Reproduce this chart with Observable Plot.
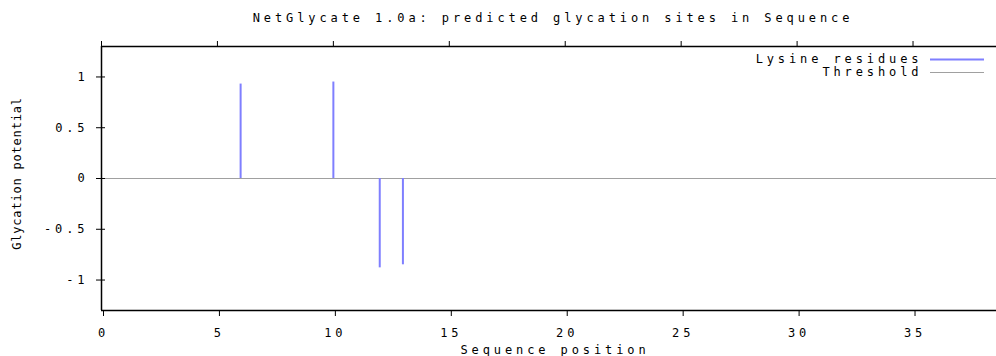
<!DOCTYPE html>
<html>
<head>
<meta charset="utf-8">
<script src="https://cdn.jsdelivr.net/npm/d3@7"></script>
<script src="https://cdn.jsdelivr.net/npm/@observablehq/plot@0.6"></script>
<style>
  html, body { margin: 0; padding: 0; background: #fff; }
  svg text { font-family: "DejaVu Sans Mono", monospace; }
</style>
</head>
<body>
<div id="chart"></div>
<script>
const titleText = "NetGlycate 1.0a: predicted glycation sites in Sequence";
const xLabel = "Sequence position";
const yLabel = "Glycation potential";
const positions = [6, 10, 12, 13];
const potentials = [0.93, 0.95, -0.88, -0.85];
const threshold = [0];
const xTicks = [0, 5, 10, 15, 20, 25, 30, 35];
const yTicks = [-1, -0.5, 0, 0.5, 1];
const xDomain = [0, 38.6];
const yDomain = [-1.3, 1.3];
const legendLabels = ["Lysine residues", "Threshold"];
const legendColors = ["#7f7fff", "#a0a0a0"];

const sites = positions.map((p, i) => ({pos: p, val: potentials[i]}));
const fmt = d => String(d);
const font = {fontFamily: "DejaVu Sans Mono, monospace", fontSize: 12};

const chart = Plot.plot({
  width: 996,
  height: 356,
  marginLeft: 101,
  marginRight: 0,
  marginTop: 46,
  marginBottom: 46,
  style: {fontFamily: "DejaVu Sans Mono, monospace", fontSize: "12px", letterSpacing: "3.9px", color: "#000", background: "#fff"},
  x: {domain: xDomain},
  y: {domain: yDomain},
  marks: [
    Plot.ruleY(threshold, {stroke: legendColors[1], strokeWidth: 1}),
    Plot.ruleX(sites, {x: "pos", y1: 0, y2: "val", stroke: legendColors[0], strokeWidth: 2}),
    Plot.ruleY([yDomain[0], yDomain[1]], {stroke: "#000", strokeWidth: 1.5}),
    Plot.ruleX([xDomain[0]], {stroke: "#000", strokeWidth: 1.5}),
    Plot.axisX({anchor: "bottom", ticks: xTicks, tickFormat: fmt, tickSize: 6, tickPadding: 12, label: null, dx: 2}),
    Plot.axisX({anchor: "top", ticks: xTicks, tickFormat: null, tickSize: 6, label: null, text: null}),
    Plot.axisY({anchor: "left", ticks: yTicks, tickFormat: fmt, tickSize: 9, tickPadding: 8, label: null, dx: 4}),
    Plot.text([titleText], {frameAnchor: "top", lineAnchor: "middle", textAnchor: "middle", dy: -28, dx: 4, text: d => d, fill: "#000", ...font}),
    Plot.text([xLabel], {frameAnchor: "bottom", lineAnchor: "middle", textAnchor: "middle", dy: 40, dx: 6, text: d => d, fill: "#000", ...font}),
    Plot.text([yLabel], {frameAnchor: "left", lineAnchor: "middle", textAnchor: "middle", dx: -84, dy: -5, rotate: -90, text: d => d, fill: "#000", ...font}),
    Plot.text([legendLabels[0]], {frameAnchor: "top-right", lineAnchor: "middle", dx: -74, dy: 13, textAnchor: "end", text: d => d, fill: "#000", ...font}),
    Plot.text([legendLabels[1]], {frameAnchor: "top-right", lineAnchor: "middle", dx: -74, dy: 26, textAnchor: "end", text: d => d, fill: "#000", ...font})
  ]
});

document.getElementById("chart").appendChild(chart);
const svg = d3.select(chart);
svg.selectAll("text").filter(function() { return this.textContent === yLabel; })
  .style("letter-spacing", "0.8px");
const svgRect = chart.getBoundingClientRect();
svg.selectAll("text").filter(function() {
  return legendLabels.includes(this.textContent);
}).each(function() {
  const idx = legendLabels.indexOf(this.textContent);
  const r = this.getBoundingClientRect();
  const cy = Math.round(r.top - svgRect.top + r.height / 2) + 0.5;
  svg.append("line")
    .attr("x1", 930).attr("x2", 984)
    .attr("y1", cy).attr("y2", cy)
    .attr("stroke", legendColors[idx])
    .attr("stroke-width", idx === 0 ? 2 : 1);
});
</script>
</body>
</html>
